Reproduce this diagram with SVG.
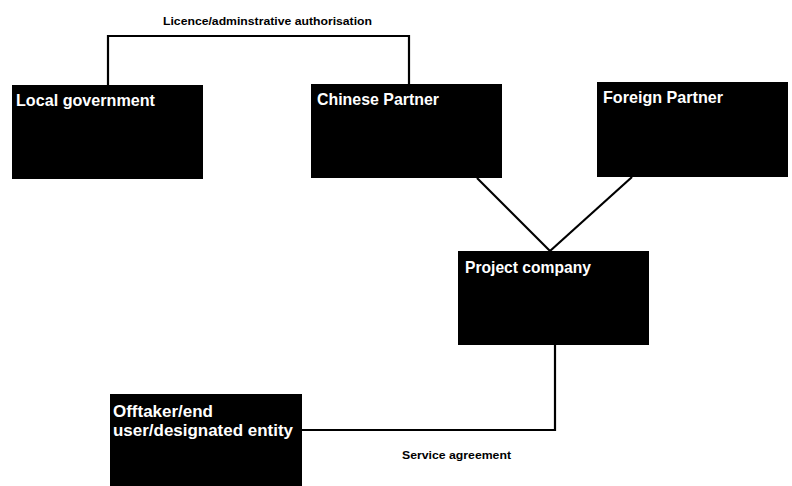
<svg xmlns="http://www.w3.org/2000/svg" width="792" height="486" viewBox="0 0 792 486">
<style>
.box{fill:#000}
.lbl{fill:#fff;font-family:"Liberation Sans",Arial,sans-serif;font-weight:bold;font-size:17px}
.edge{fill:none;stroke:#000;stroke-width:2.2}
.elbl{fill:#000;font-family:"Liberation Sans",Arial,sans-serif;font-weight:bold;font-size:11.5px}
</style>
<rect width="792" height="486" fill="#fff"/>
<g id="connectors">
<polyline class="edge" points="108,85 108,36 409,36 409,84"/>
<text class="elbl" x="163" y="25" textLength="209" lengthAdjust="spacingAndGlyphs">Licence/adminstrative authorisation</text>
<line class="edge" x1="477" y1="178" x2="550" y2="251"/>
<line class="edge" x1="632" y1="177" x2="550" y2="251"/>
<polyline class="edge" points="555,345 555,430 302,430"/>
<text class="elbl" x="402" y="459" textLength="109" lengthAdjust="spacingAndGlyphs">Service agreement</text>
</g>
<g id="local-government">
<rect class="box" x="12" y="85" width="191" height="94"/>
<text class="lbl" x="16" y="106" textLength="139" lengthAdjust="spacingAndGlyphs">Local government</text>
</g>
<g id="chinese-partner">
<rect class="box" x="311" y="84" width="191" height="94"/>
<text class="lbl" x="317" y="105" textLength="122" lengthAdjust="spacingAndGlyphs">Chinese Partner</text>
</g>
<g id="foreign-partner">
<rect class="box" x="597" y="82" width="191" height="95"/>
<text class="lbl" x="603" y="103" textLength="120" lengthAdjust="spacingAndGlyphs">Foreign Partner</text>
</g>
<g id="project-company">
<rect class="box" x="458" y="251" width="191" height="94"/>
<text class="lbl" x="465" y="273" textLength="126" lengthAdjust="spacingAndGlyphs">Project company</text>
</g>
<g id="offtaker">
<rect class="box" x="110" y="394" width="192" height="92"/>
<text class="lbl" x="113" y="417" textLength="100" lengthAdjust="spacingAndGlyphs">Offtaker/end</text>
<text class="lbl" x="113" y="436" textLength="180" lengthAdjust="spacingAndGlyphs">user/designated entity</text>
</g>
</svg>
